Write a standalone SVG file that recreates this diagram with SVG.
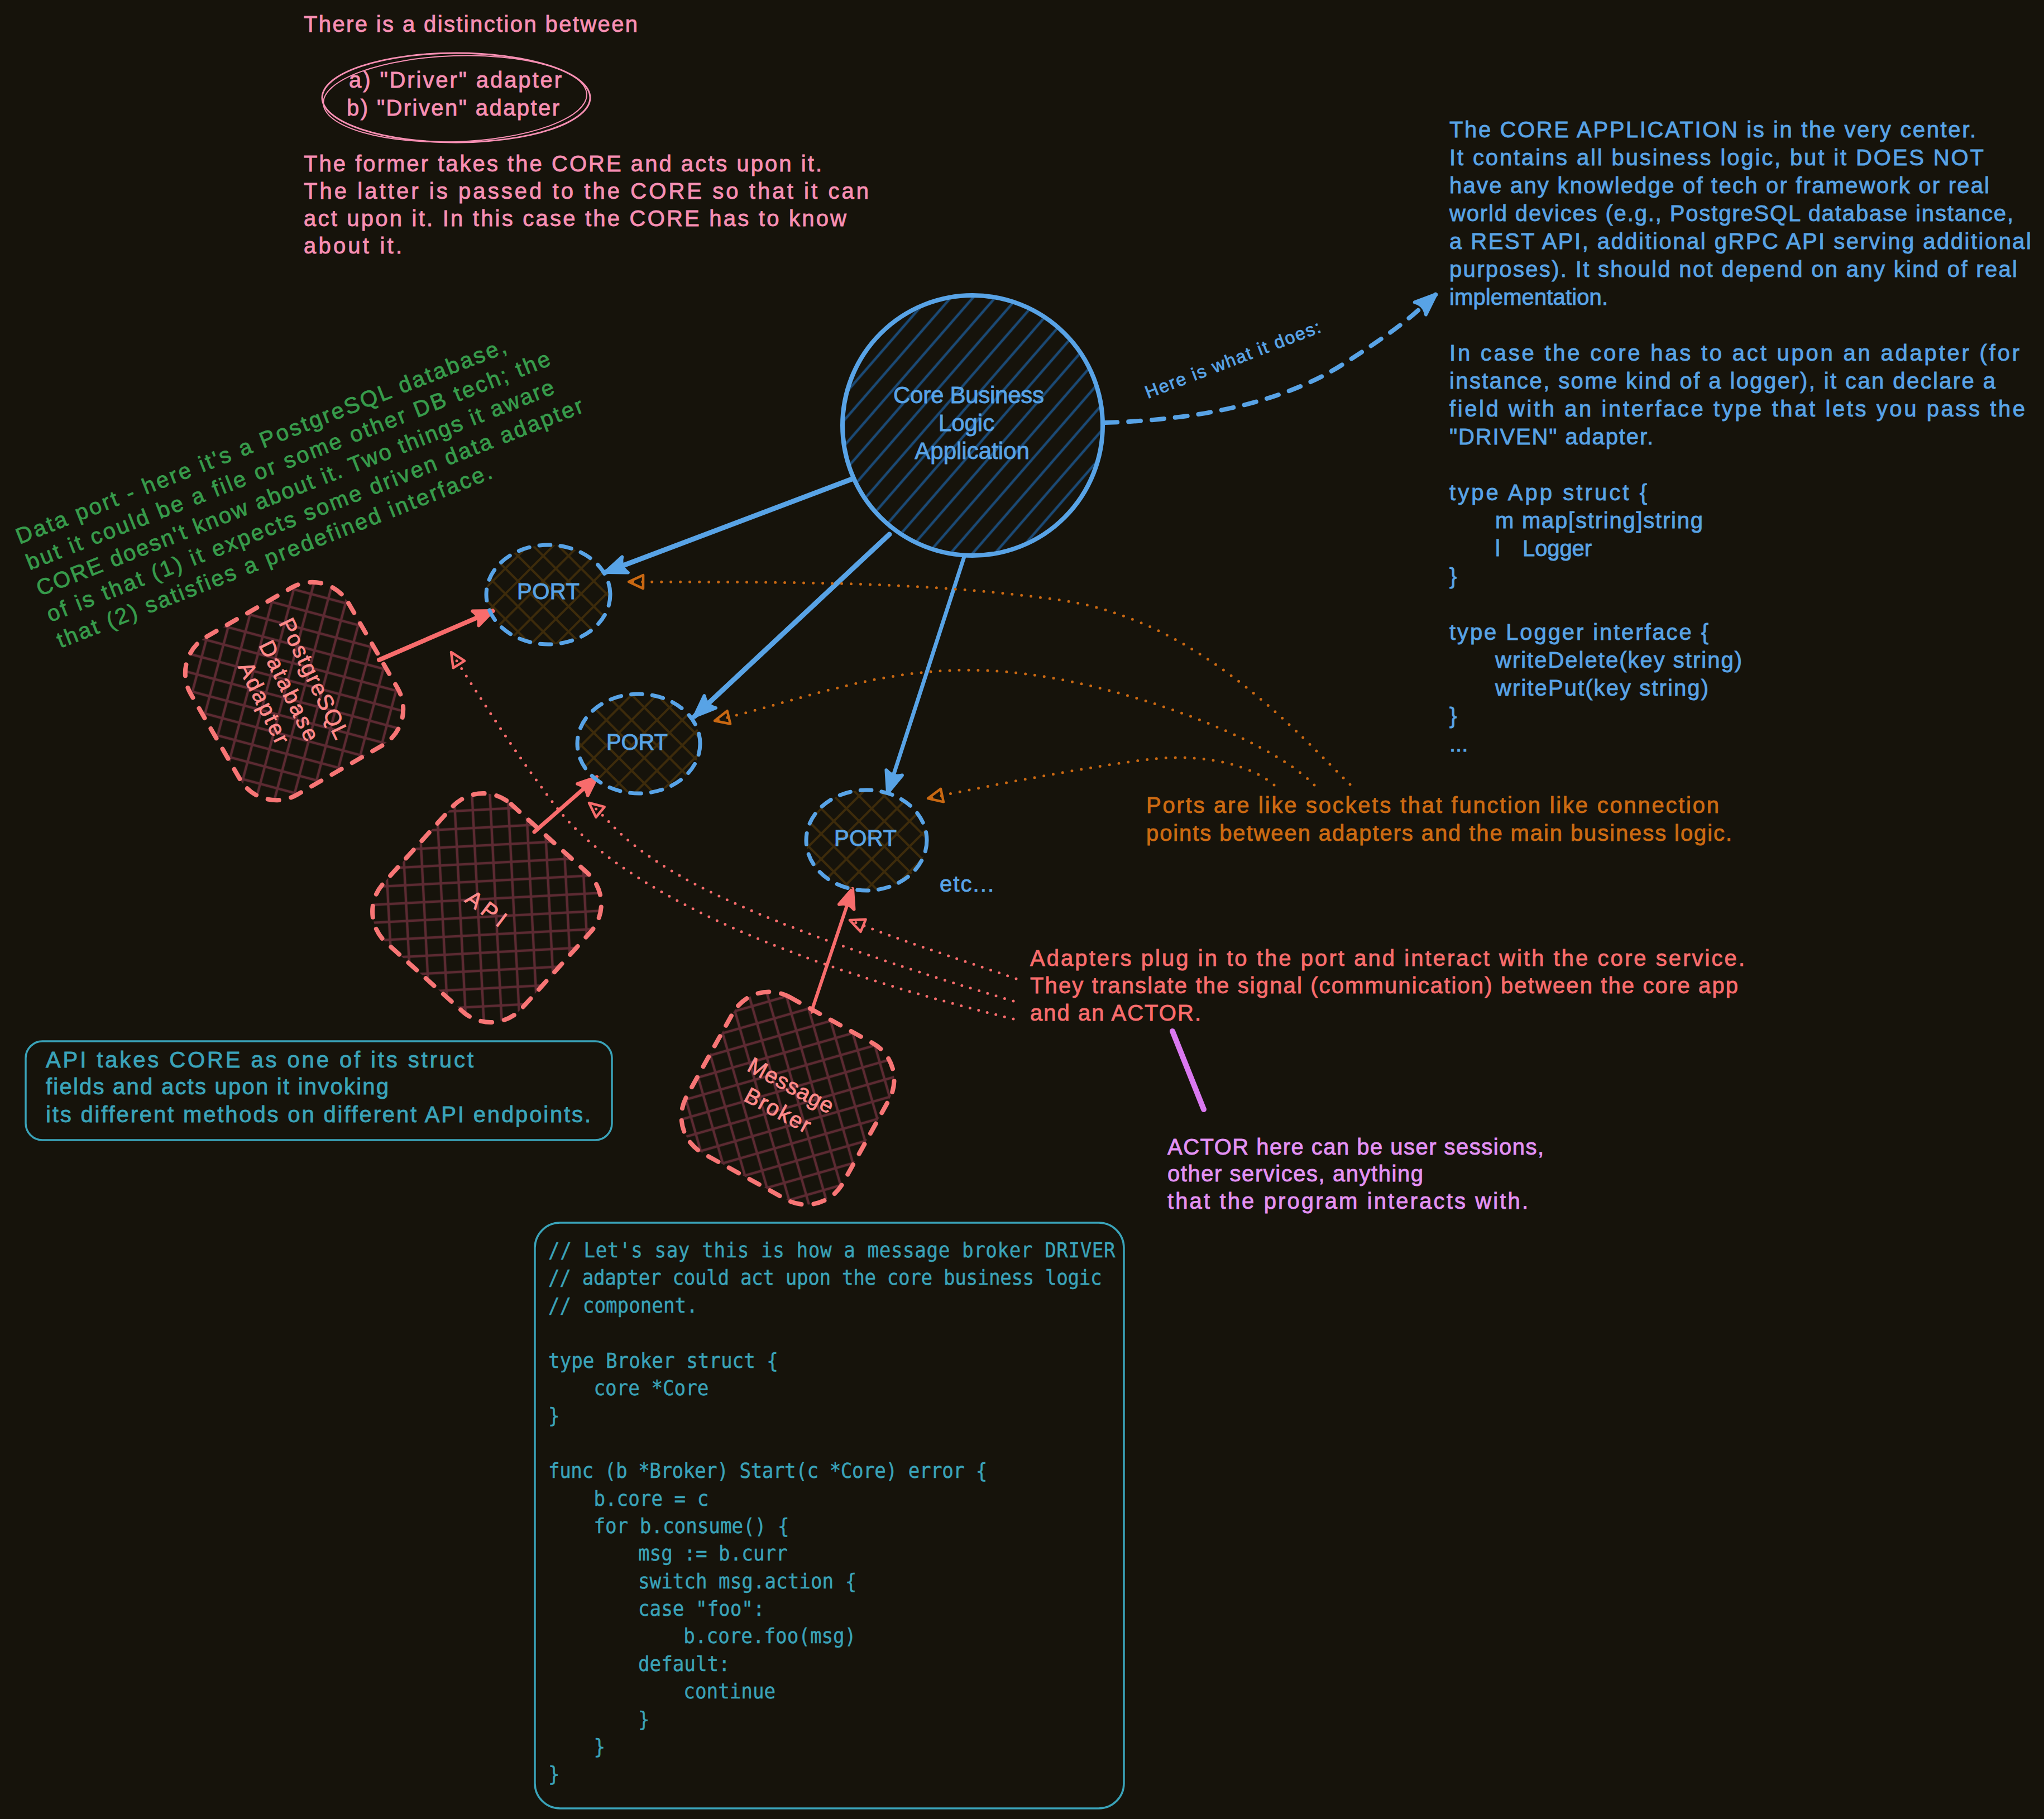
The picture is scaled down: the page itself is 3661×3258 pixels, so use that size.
<svg xmlns="http://www.w3.org/2000/svg" width="3661" height="3258" viewBox="0 0 3661 3258">
<defs>
<style>
text{font-family:"Liberation Sans","DejaVu Sans",Arial,sans-serif;font-size:40px;stroke-width:0.9px;}
.pk{fill:#f78fb3;stroke:#f78fb3}
.bl{fill:#58a3e6;stroke:#58a3e6}
.or{fill:#cc6a12;stroke:#cc6a12}
.rd{fill:#f86c6c;stroke:#f86c6c}
.ad{fill:#ff8a8a;stroke:#ff8a8a}
.vi{fill:#e391f4;stroke:#e391f4}
.tl{fill:#3aa3b9;stroke:#3aa3b9}
.gr{fill:#379b4b;stroke:#379b4b}
.code{font-family:"DejaVu Sans Mono","Liberation Mono",monospace;font-size:37px;fill:#3aa3b9;stroke:#3aa3b9;stroke-width:0.5px}
.portline{fill:none;stroke:#58a3e6;stroke-width:7;stroke-dasharray:20 18;stroke-linecap:round}
.adline{fill:none;stroke:#f77575;stroke-width:8;stroke-dasharray:20 22;stroke-linecap:round}
.arrB{fill:none;stroke:#58a3e6;stroke-linecap:round}
.arrR{fill:none;stroke:#f86c6c;stroke-linecap:round}
.dotO{fill:none;stroke:#c96812;stroke-width:5;stroke-dasharray:0 17;stroke-linecap:round}
.dotR{fill:none;stroke:#f86c6c;stroke-width:5;stroke-dasharray:0 16;stroke-linecap:round}
.box{fill:none;stroke:#3aa3b9;stroke-width:3.5}
</style>
<pattern id="hCore" patternUnits="userSpaceOnUse" width="30" height="30" patternTransform="rotate(-49)">
<line x1="0" y1="15" x2="30" y2="15" stroke="#1b4a76" stroke-width="4.5"/>
</pattern>
<pattern id="hPort" patternUnits="userSpaceOnUse" width="32" height="32" patternTransform="rotate(45)">
<path d="M0,16H32M16,0V32" stroke="#3d2b0b" stroke-width="4"/>
</pattern>
<pattern id="hAd" patternUnits="userSpaceOnUse" width="32" height="32" patternTransform="rotate(45)">
<path d="M0,16H32M16,0V32" stroke="#5c2a32" stroke-width="4.5"/>
</pattern>
<marker id="mB" markerUnits="userSpaceOnUse" viewBox="-50 -25 60 50" markerWidth="60" markerHeight="50" refX="0" refY="0" orient="auto" overflow="visible">
<path d="M-38,-15 L0,0 L-38,15 Q-28,0 -38,-15Z" fill="#58a3e6" stroke="#58a3e6" stroke-width="6" stroke-linejoin="round"/>
</marker>
<marker id="mR" markerUnits="userSpaceOnUse" viewBox="-50 -25 60 50" markerWidth="60" markerHeight="50" refX="0" refY="0" orient="auto" overflow="visible">
<path d="M-34,-14 L0,0 L-34,14 Q-25,0 -34,-14Z" fill="#f86c6c" stroke="#f86c6c" stroke-width="6" stroke-linejoin="round"/>
</marker>
<marker id="mO" markerUnits="userSpaceOnUse" viewBox="-40 -20 50 40" markerWidth="50" markerHeight="40" refX="0" refY="0" orient="auto" overflow="visible">
<path d="M-26,-12 L0,0 L-26,12 Z" fill="none" stroke="#c96812" stroke-width="4.5" stroke-linejoin="round"/>
</marker>
<marker id="mP" markerUnits="userSpaceOnUse" viewBox="-40 -20 50 40" markerWidth="50" markerHeight="40" refX="0" refY="0" orient="auto" overflow="visible">
<path d="M-26,-12 L0,0 L-26,12 Z" fill="none" stroke="#f86c6c" stroke-width="4.5" stroke-linejoin="round"/>
</marker>
</defs>
<rect x="0" y="0" width="3661" height="3258" fill="#16130b"/>

<g id="note-distinction">
<text class="pk" x="544" y="57" textLength="598">There is a distinction between</text>
<ellipse cx="817" cy="175" rx="240" ry="80" fill="none" stroke="#f78fb3" stroke-width="3"/>
<ellipse cx="815" cy="177" rx="236" ry="77" fill="none" stroke="#f78fb3" stroke-width="2" transform="rotate(-2 815 177)"/>
<text class="pk" x="625" y="157" textLength="381">a) "Driver" adapter</text>
<text class="pk" x="621" y="207" textLength="381">b) "Driven" adapter</text>
<text class="pk" x="544" y="307" textLength="928">The former takes the CORE and acts upon it.</text>
<text class="pk" x="544" y="356" textLength="1012">The latter is passed to the CORE so that it can</text>
<text class="pk" x="544" y="405" textLength="972">act upon it. In this case the CORE has to know</text>
<text class="pk" x="544" y="454" textLength="176">about it.</text>
</g>

<g id="note-core-app">
<text class="bl" x="2596" y="246" textLength="943">The CORE APPLICATION is in the very center.</text>
<text class="bl" x="2596" y="296" textLength="957">It contains all business logic, but it DOES NOT</text>
<text class="bl" x="2596" y="346" textLength="967">have any knowledge of tech or framework or real</text>
<text class="bl" x="2596" y="396" textLength="1010">world devices (e.g., PostgreSQL database instance,</text>
<text class="bl" x="2596" y="446" textLength="1042">a REST API, additional gRPC API serving additional</text>
<text class="bl" x="2596" y="496" textLength="1017">purposes). It should not depend on any kind of real</text>
<text class="bl" x="2596" y="546" textLength="284">implementation.</text>
<text class="bl" x="2596" y="646" textLength="1021">In case the core has to act upon an adapter (for</text>
<text class="bl" x="2596" y="696" textLength="978">instance, some kind of a logger), it can declare a</text>
<text class="bl" x="2596" y="746" textLength="1031">field with an interface type that lets you pass the</text>
<text class="bl" x="2596" y="796" textLength="365">"DRIVEN" adapter.</text>
<text class="bl" x="2596" y="896" textLength="354">type App struct {</text>
<text class="bl" x="2678" y="946" textLength="372">m map[string]string</text>
<text class="bl" x="2678" y="996">l</text>
<text class="bl" x="2727" y="996" textLength="124">Logger</text>
<text class="bl" x="2596" y="1046">}</text>
<text class="bl" x="2596" y="1146" textLength="464">type Logger interface {</text>
<text class="bl" x="2678" y="1196" textLength="442">writeDelete(key string)</text>
<text class="bl" x="2678" y="1246" textLength="382">writePut(key string)</text>
<text class="bl" x="2596" y="1296">}</text>
<text class="bl" x="2596" y="1346">...</text>
</g>

<g id="note-data-port" transform="translate(35,975) rotate(-21.5)">
<text class="gr" x="0" y="0" textLength="940">Data port - here it's a PostgreSQL database,</text>
<text class="gr" x="0" y="50" textLength="1005">but it could be a file or some other DB tech; the</text>
<text class="gr" x="0" y="100" textLength="993">CORE doesn't know about it. Two things it aware</text>
<text class="gr" x="0" y="150" textLength="1029">of is that (1) it expects some driven data adapter</text>
<text class="gr" x="0" y="200" textLength="834">that (2) satisfies a predefined interface.</text>
</g>

<g id="connectors">
<path class="arrB" stroke-width="9" d="M1526,858 L1084,1025" marker-end="url(#mB)"/>
<path class="arrB" stroke-width="9" d="M1593,957 L1244,1283" marker-end="url(#mB)"/>
<path class="arrB" stroke-width="3" d="M1588,964 L1252,1278"/>
<path class="arrB" stroke-width="7" d="M1727,997 L1590,1420" marker-end="url(#mB)"/>
<path class="arrB" stroke-width="8" stroke-dasharray="22 20" d="M1979,757 C2150,752 2300,720 2406,652 S2530,565 2572,527" marker-end="url(#mB)"/>
<path class="arrR" stroke-width="8" d="M679,1182 L883,1094" marker-end="url(#mR)"/>
<path class="arrR" stroke-width="7" d="M957,1490 L1069,1392" marker-end="url(#mR)"/>
<path class="arrR" stroke-width="6" d="M1453,1813 L1527,1592" marker-end="url(#mR)"/>
<path class="dotO" d="M2418,1405 C2330,1320 2150,1110 1900,1075 S1400,1043 1126,1042" marker-end="url(#mO)"/>
<path class="dotO" d="M2354,1406 C2270,1320 2000,1220 1800,1203 S1450,1250 1280,1291" marker-end="url(#mO)"/>
<path class="dotO" d="M2282,1406 C2240,1370 2160,1352 2080,1358 S1780,1405 1662,1430" marker-end="url(#mO)"/>
<path class="dotR" d="M1815,1825 C1420,1730 1120,1600 1000,1450 C930,1360 860,1250 808,1168" marker-end="url(#mP)"/>
<path class="dotR" d="M1815,1793 C1500,1700 1300,1620 1200,1558 S1100,1475 1055,1438" marker-end="url(#mP)"/>
<path class="dotR" d="M1820,1753 C1700,1712 1600,1680 1522,1648" marker-end="url(#mP)"/>
<path d="M2100,1847 L2156,1987" fill="none" stroke="#da78f0" stroke-width="10" stroke-linecap="round"/>
<text class="bl" transform="translate(2056,714) rotate(-21)" style="font-size:32px" textLength="334">Here is what it does:</text>
</g>

<g id="core">
<circle cx="1742" cy="762" r="229" fill="url(#hCore)"/>
<circle cx="1742" cy="762" r="233" fill="none" stroke="#58a3e6" stroke-width="8"/>
<text class="bl" x="1735" y="722" text-anchor="middle" textLength="270" style="font-size:42px">Core Business</text>
<text class="bl" x="1731" y="772" text-anchor="middle" style="font-size:42px">Logic</text>
<text class="bl" x="1741" y="822" text-anchor="middle" style="font-size:42px">Application</text>
</g>

<g id="port-1">
<ellipse cx="982" cy="1065" rx="111" ry="89" fill="url(#hPort)"/>
<ellipse class="portline" cx="982" cy="1065" rx="111" ry="89"/>
<text class="bl" x="982" y="1073" text-anchor="middle" textLength="112">PORT</text>
</g>
<g id="port-2">
<ellipse cx="1144" cy="1332" rx="110" ry="89" fill="url(#hPort)"/>
<ellipse class="portline" cx="1144" cy="1332" rx="110" ry="89"/>
<text class="bl" x="1141" y="1343" text-anchor="middle" textLength="110">PORT</text>
</g>
<g id="port-3">
<ellipse cx="1552" cy="1505" rx="108" ry="90" fill="url(#hPort)"/>
<ellipse class="portline" cx="1552" cy="1505" rx="108" ry="90"/>
<text class="bl" x="1550" y="1515" text-anchor="middle" textLength="112">PORT</text>
</g>
<g id="note-etc">
<text class="bl" x="1683" y="1597" textLength="97">etc...</text>
</g>

<g id="adapter-postgres">
<g transform="translate(527,1238) rotate(60)">
<rect x="-163" y="-163" width="326" height="326" rx="75" fill="url(#hAd)"/>
<rect class="adline" x="-163" y="-163" width="326" height="326" rx="75"/>
</g>
<g transform="translate(518,1237) rotate(64)">
<text class="ad" x="0" y="-36" text-anchor="middle" textLength="235">PostgreSQL</text>
<text class="ad" x="0" y="14" text-anchor="middle" textLength="195">Database</text>
<text class="ad" x="0" y="64" text-anchor="middle" textLength="158">Adapter</text>
</g>
</g>

<g id="adapter-api">
<g transform="translate(872,1626) rotate(42)">
<rect x="-167" y="-167" width="334" height="334" rx="75" fill="url(#hAd)"/>
<rect class="adline" x="-167" y="-167" width="334" height="334" rx="75"/>
</g>
<text class="ad" transform="translate(871,1627) rotate(37)" x="0" y="14" text-anchor="middle" textLength="80">API</text>
</g>

<g id="adapter-broker">
<g transform="translate(1411,1967) rotate(29)">
<rect x="-160" y="-160" width="320" height="320" rx="75" fill="url(#hAd)"/>
<rect class="adline" x="-160" y="-160" width="320" height="320" rx="75"/>
</g>
<g transform="translate(1405,1966) rotate(28)">
<text class="ad" x="0" y="-11" text-anchor="middle" textLength="168">Message</text>
<text class="ad" x="0" y="39" text-anchor="middle" textLength="128">Broker</text>
</g>
</g>

<g id="note-ports">
<text class="or" x="2053" y="1456" textLength="1026">Ports are like sockets that function like connection</text>
<text class="or" x="2053" y="1506" textLength="1049">points between adapters and the main business logic.</text>
</g>

<g id="note-adapters">
<text class="rd" x="1845" y="1730" textLength="1280">Adapters plug in to the port and interact with the core service.</text>
<text class="rd" x="1845" y="1779" textLength="1268">They translate the signal (communication) between the core app</text>
<text class="rd" x="1845" y="1828" textLength="306">and an ACTOR.</text>
</g>

<g id="note-actor">
<text class="vi" x="2091" y="2068" textLength="674">ACTOR here can be user sessions,</text>
<text class="vi" x="2091" y="2116" textLength="458">other services, anything</text>
<text class="vi" x="2091" y="2165" textLength="646">that the program interacts with.</text>
</g>

<g id="note-api">
<rect class="box" x="46" y="1865" width="1050" height="177" rx="30"/>
<text class="tl" x="82" y="1912" textLength="766">API takes CORE as one of its struct</text>
<text class="tl" x="82" y="1960" textLength="614">fields and acts upon it invoking</text>
<text class="tl" x="82" y="2010" textLength="976">its different methods on different API endpoints.</text>
</g>

<g id="note-broker-code">
<rect class="box" x="958" y="2190" width="1055" height="1049" rx="45"/>
<g transform="translate(982,0) scale(0.925,1) translate(-982,0)">
<text class="code" x="982" y="2252" textLength="1098">// Let's say this is how a message broker DRIVER</text>
<text class="code" x="982" y="2301" textLength="1072">// adapter could act upon the core business logic</text>
<text class="code" x="982" y="2351">// component.</text>
<text class="code" x="982" y="2450">type Broker struct {</text>
<text class="code" x="1070" y="2499">core *Core</text>
<text class="code" x="982" y="2548">}</text>
<text class="code" x="982" y="2647" textLength="850">func (b *Broker) Start(c *Core) error {</text>
<text class="code" x="1070" y="2697">b.core = c</text>
<text class="code" x="1070" y="2746">for b.consume() {</text>
<text class="code" x="1156" y="2795">msg := b.curr</text>
<text class="code" x="1156" y="2845">switch msg.action {</text>
<text class="code" x="1156" y="2894">case "foo":</text>
<text class="code" x="1244" y="2943">b.core.foo(msg)</text>
<text class="code" x="1156" y="2993">default:</text>
<text class="code" x="1244" y="3042">continue</text>
<text class="code" x="1156" y="3092">}</text>
<text class="code" x="1070" y="3141">}</text>
<text class="code" x="982" y="3190">}</text>
</g>
</g>
</svg>
